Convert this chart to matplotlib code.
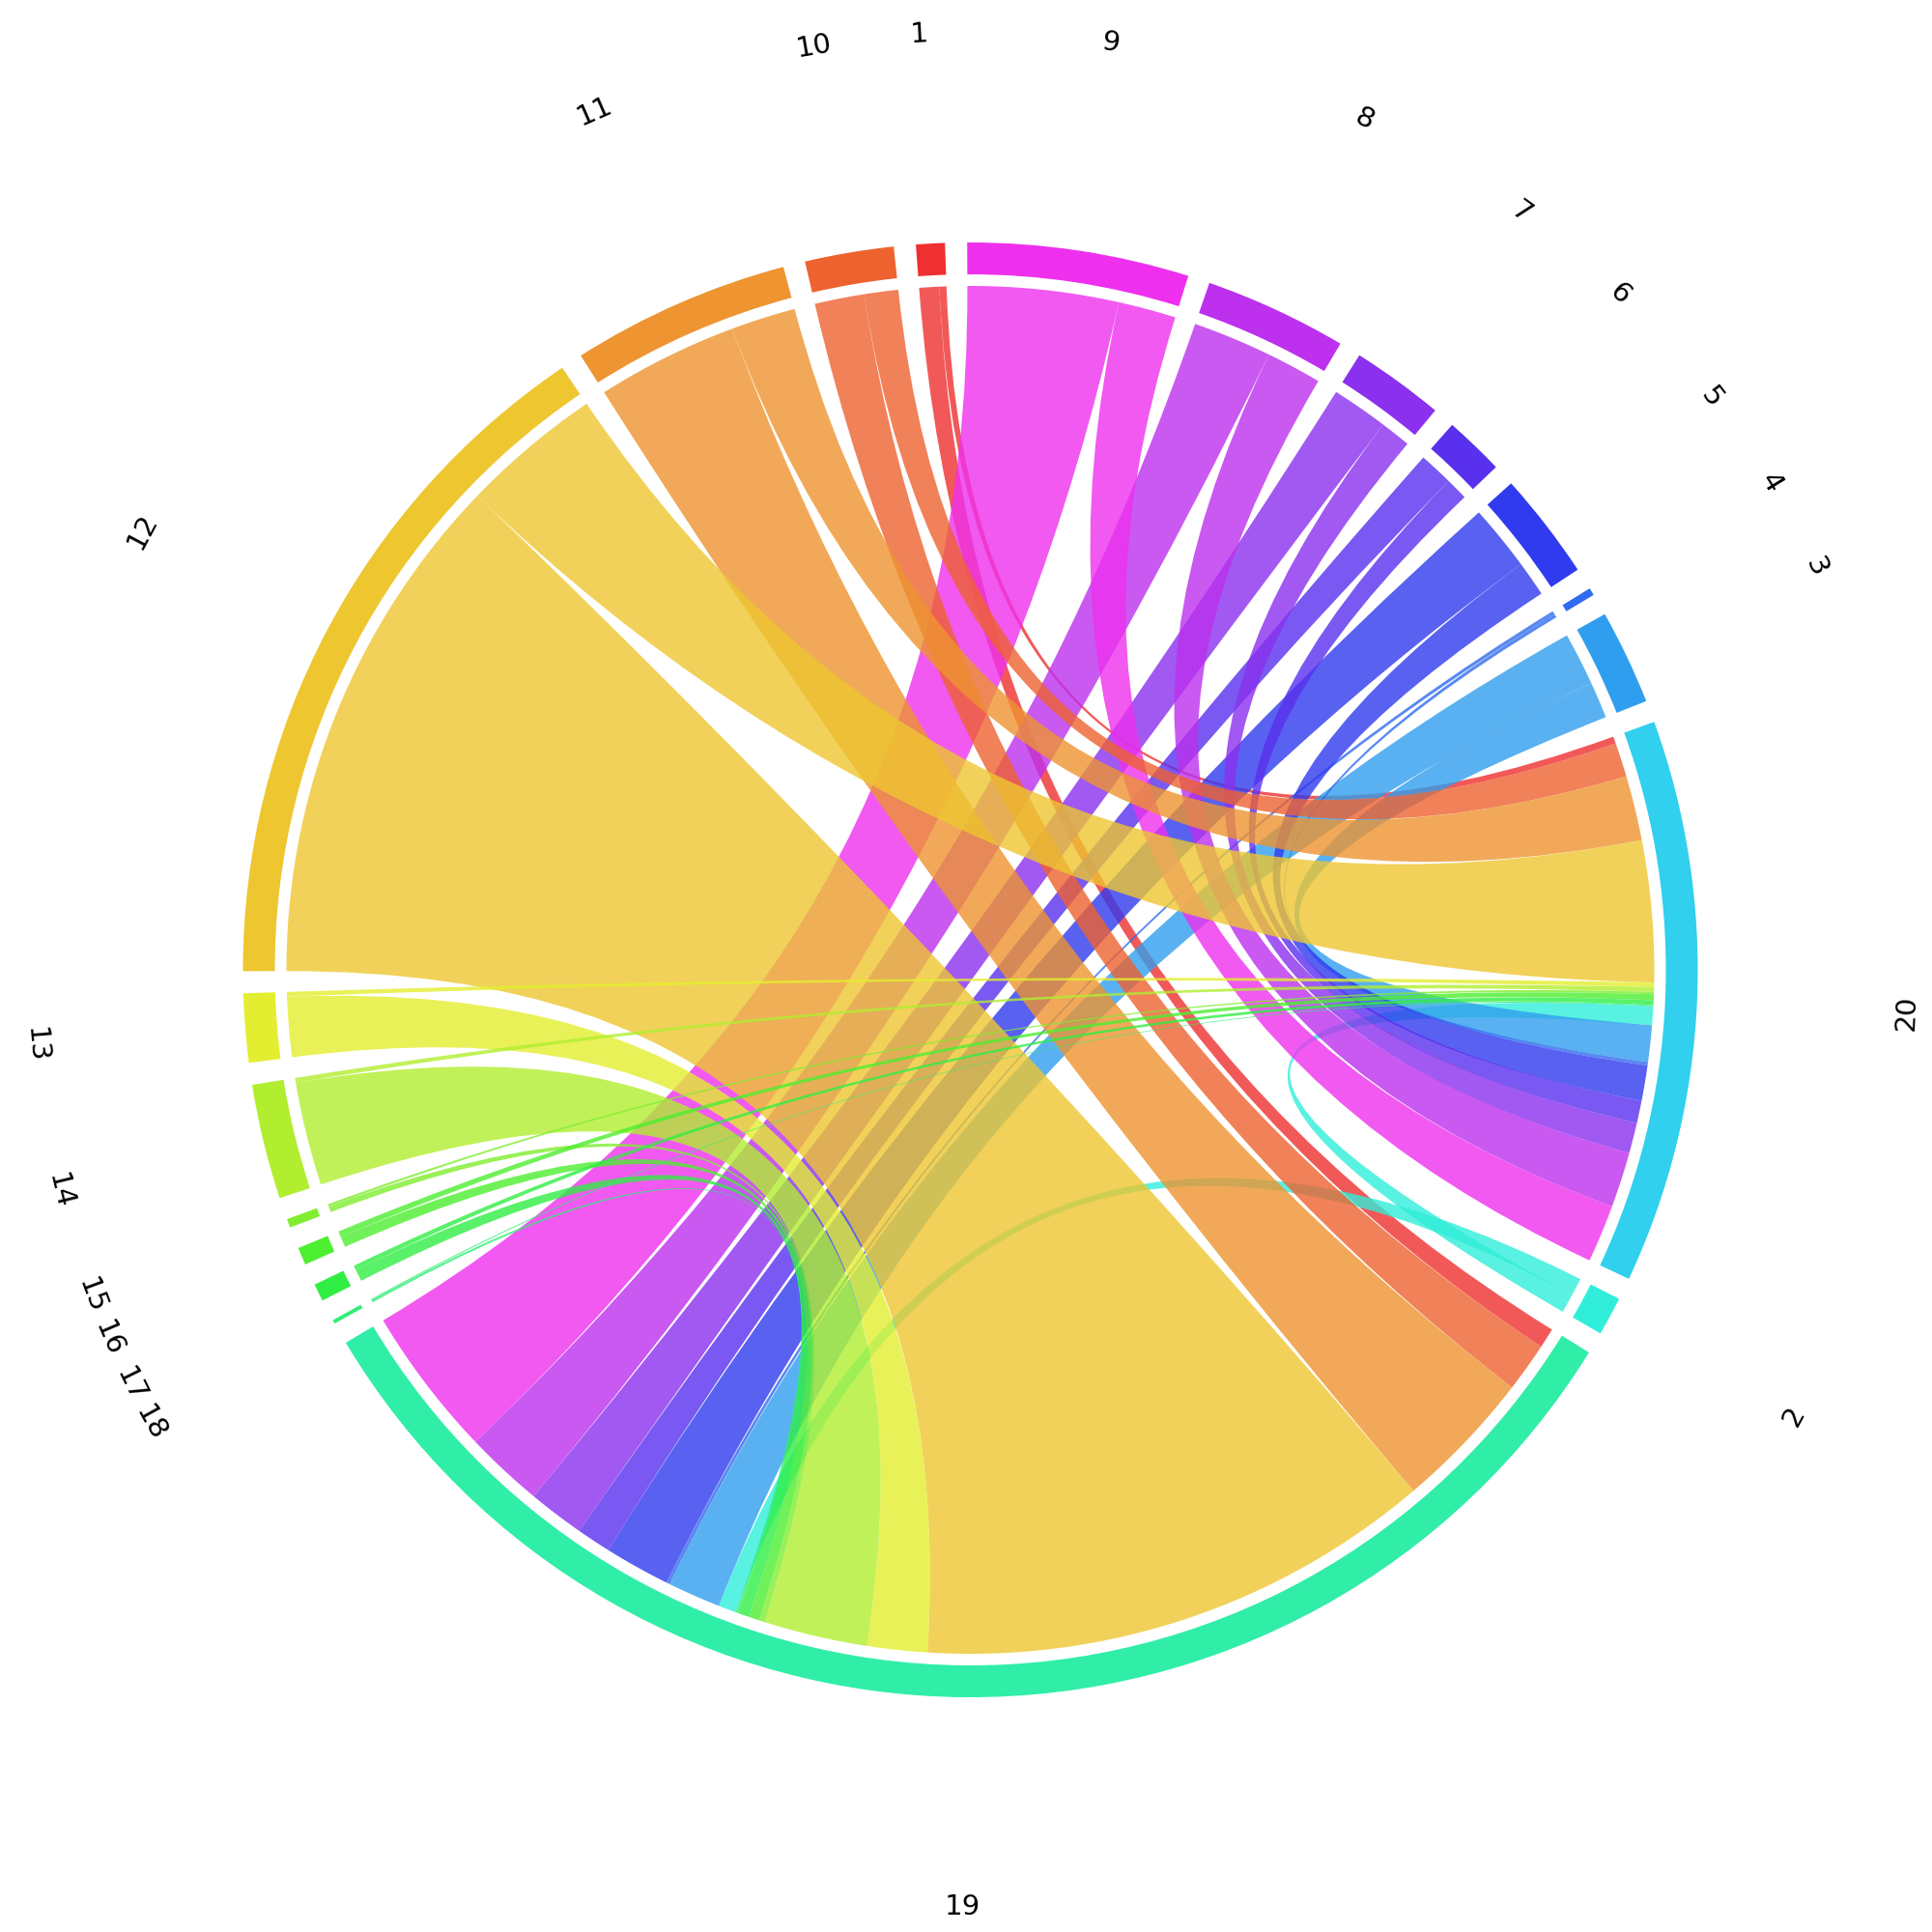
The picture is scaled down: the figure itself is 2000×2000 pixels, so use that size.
import colorsys
import numpy as np
import matplotlib
matplotlib.use("Agg")
import matplotlib.pyplot as plt
from matplotlib.path import Path
from matplotlib.patches import PathPatch, Wedge

# nodes in the order they sit round the circle (string sort)
nodes = ['1', '10', '11', '12', '13', '14', '15', '16', '17', '18', '19',
         '2', '20', '3', '4', '5', '6', '7', '8', '9']

# every other node links to 19 and to 20
sources = ['1', '10', '11', '12', '13', '14', '15', '16', '17', '18',
           '2', '3', '4', '5', '6', '7', '8', '9']
to_19 = [17, 42, 120, 440, 51, 88, 5, 9, 10, 2, 15, 45, 3, 56, 29, 48, 67, 128]
to_20 = [6, 29, 55, 120, 4, 4, 2, 5, 4, 1, 16, 31, 3, 30, 19, 26, 47, 49]

edges = []
for s, a, b in zip(sources, to_19, to_20):
    edges.append((s, '19', a))
    edges.append((s, '20', b))

# layout
gap = 1.75
start = 92.0
r_outer, ring_w = 753, 33
r_chord = 708
r_label = 970

idx = {n: i for i, n in enumerate(nodes)}
colors = {n: colorsys.hsv_to_rgb(i * 300 / 19 / 360, 0.8, 0.933) for n, i in idx.items()}

totals = {n: 0 for n in nodes}
for s, t, v in edges:
    totals[s] += v
    totals[t] += v
k = (360 - gap * len(nodes)) / sum(totals.values())

node_span = {}
a = start
for n in nodes:
    node_span[n] = (a, a + totals[n] * k)
    a += totals[n] * k + gap

# slots of each edge on both ends, ccw by other node index descending
slot = {}
for n in nodes:
    inc = [(e, t if s == n else s) for e, (s, t, v) in enumerate(edges) if n in (s, t)]
    inc.sort(key=lambda x: -idx[x[1]])
    a = node_span[n][0]
    for e, other in inc:
        w = edges[e][2] * k
        slot[(e, n)] = (a, a + w)
        a += w


def arc_pts(a0, a1, r, n=60):
    th = np.radians(np.linspace(a0, a1, n))
    return np.column_stack([r * np.cos(th), r * np.sin(th)])


def ribbon(sa, ta, r):
    p1 = arc_pts(sa[0], sa[1], r)
    p2 = arc_pts(ta[0], ta[1], r)
    verts = list(p1) + [(0, 0), p2[0]] + list(p2[1:]) + [(0, 0), p1[0], p1[0]]
    codes = ([Path.MOVETO] + [Path.LINETO] * (len(p1) - 1) + [Path.CURVE3] * 2
             + [Path.LINETO] * (len(p2) - 1) + [Path.CURVE3] * 2 + [Path.CLOSEPOLY])
    return Path(verts, codes)


fig = plt.figure(figsize=(10, 10), dpi=200)
ax = fig.add_axes([0, 0, 1, 1])
ax.set_xlim(-1004.5, 995.5)
ax.set_ylim(-996, 1004)
ax.axis('off')

# chords drawn in numeric order of the source node
order = sorted(range(len(edges)), key=lambda e: (int(edges[e][0]), edges[e][1]))
for e in order:
    s, t, v = edges[e]
    p = ribbon(slot[(e, s)], slot[(e, t)], r_chord)
    ax.add_patch(PathPatch(p, facecolor=colors[s], edgecolor='none', alpha=0.8))

for n in nodes:
    a0, a1 = node_span[n]
    ax.add_patch(Wedge((0, 0), r_outer, a0, a1, width=ring_w,
                       facecolor=colors[n], edgecolor='none'))
    m = (a0 + a1) / 2
    rot = (m - 90) % 360
    if 90 < rot < 270:
        rot -= 180
    ax.text(r_label * np.cos(np.radians(m)), r_label * np.sin(np.radians(m)), n,
            rotation=rot, ha='center', va='center', fontsize=10.5,
            rotation_mode='anchor')

fig.savefig('out.png', dpi=200)
